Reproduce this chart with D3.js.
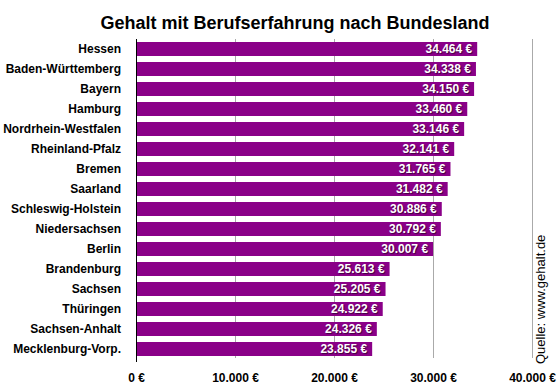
<!DOCTYPE html>
<html>
<head>
<meta charset="utf-8">
<script src="https://cdn.jsdelivr.net/npm/d3@7"></script>
<style>
  body { margin: 0; background: #fff; }
  svg { font-family: "Liberation Sans", Arial, Helvetica, sans-serif; }
  .val { text-shadow: 1px 1px 1px rgba(0,0,0,0.55); }
</style>
</head>
<body>
<div id="chart"></div>
<script>
const states = ["Hessen", "Baden-Württemberg", "Bayern", "Hamburg", "Nordrhein-Westfalen",
  "Rheinland-Pfalz", "Bremen", "Saarland", "Schleswig-Holstein", "Niedersachsen", "Berlin",
  "Brandenburg", "Sachsen", "Thüringen", "Sachsen-Anhalt", "Mecklenburg-Vorp."];
const salaries = [34464, 34338, 34150, 33460, 33146, 32141, 31765, 31482, 30886, 30792, 30007,
  25613, 25205, 24922, 24326, 23855];
const xTicks = [0, 10000, 20000, 30000, 40000];

const width = 560, height = 386;
const margin = { top: 39, left: 136, right: 28, bottom: 27 };

const de = d3.formatLocale({ decimal: ",", thousands: ".", grouping: [3], currency: ["", " €"] });
const fmt = de.format("$,");

const svg = d3.select("#chart").append("svg")
  .attr("width", width)
  .attr("height", height);

const x = d3.scaleLinear().domain([0, 40000]).range([margin.left, width - margin.right]);
const y = d3.scaleBand().domain(states).range([margin.top, height - margin.bottom]).paddingInner(0.3).paddingOuter(0.15);

svg.append("text")
  .attr("x", 295)
  .attr("y", 29)
  .attr("text-anchor", "middle")
  .attr("font-size", 18)
  .attr("font-weight", "bold")
  .text("Gehalt mit Berufserfahrung nach Bundesland");

// grid lines
svg.append("g")
  .selectAll("line")
  .data(xTicks.slice(1))
  .join("line")
  .attr("x1", d => x(d) + 0.5)
  .attr("x2", d => x(d) + 0.5)
  .attr("y1", 39)
  .attr("y2", 358)
  .attr("stroke", "#aaa")
  .attr("stroke-width", 1);

// bars
svg.append("g")
  .selectAll("rect")
  .data(states)
  .join("rect")
  .attr("x", x(0))
  .attr("y", d => y(d))
  .attr("width", (d, i) => x(salaries[i]) - x(0))
  .attr("height", y.bandwidth())
  .attr("fill", "#8a0088");

// value labels
svg.append("g")
  .selectAll("text")
  .data(states)
  .join("text")
  .attr("class", "val")
  .attr("x", (d, i) => x(salaries[i]) - 5)
  .attr("y", d => y(d) + y.bandwidth() / 2)
  .attr("dy", "0.36em")
  .attr("text-anchor", "end")
  .attr("fill", "#fff")
  .attr("font-size", 12)
  .attr("font-weight", "bold")
  .text((d, i) => fmt(salaries[i]));

// category labels
svg.append("g")
  .selectAll("text")
  .data(states)
  .join("text")
  .attr("x", 121)
  .attr("y", d => y(d) + y.bandwidth() / 2)
  .attr("dy", "0.36em")
  .attr("text-anchor", "end")
  .attr("font-size", 12)
  .attr("font-weight", "bold")
  .text(d => d);

// zero line
svg.append("line")
  .attr("x1", x(0) + 0.5).attr("x2", x(0) + 0.5)
  .attr("y1", 39).attr("y2", 362)
  .attr("stroke", "#000")
  .attr("stroke-width", 1);

// x axis labels
const xAxis = svg.append("g")
  .attr("transform", `translate(0,${height - margin.bottom})`)
  .call(d3.axisBottom(x).tickValues(xTicks).tickFormat(fmt).tickSize(0).tickPadding(14));
xAxis.select(".domain").remove();
xAxis.selectAll("text")
  .attr("font-size", 12)
  .attr("font-weight", "bold")
  .attr("font-family", "Liberation Sans, Arial, sans-serif")
  .attr("fill", "#000");

svg.append("text")
  .attr("transform", "translate(545,364) rotate(-90)")
  .attr("font-size", 13)
  .text("Quelle: www.gehalt.de");
</script>
</body>
</html>
